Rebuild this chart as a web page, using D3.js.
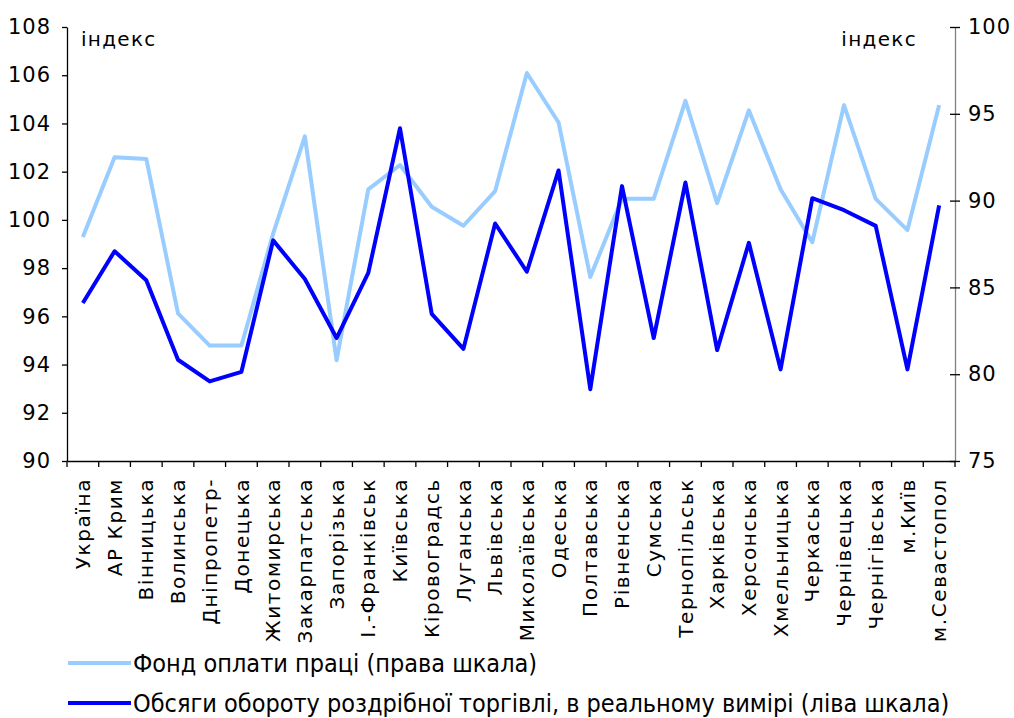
<!DOCTYPE html>
<html>
<head>
<meta charset="utf-8">
<script src="https://cdn.jsdelivr.net/npm/d3@7"></script>
<style>
  body { margin: 0; background: #fff; }
  svg { display: block; font-family: "DejaVu Sans", Verdana, sans-serif; }
</style>
</head>
<body>
<div id="chart"></div>
<script>
// Regions along the x axis
const regions = ['Україна', 'АР Крим', 'Вінницька', 'Волинська', 'Дніпропетр-', 'Донецька',
    'Житомирська', 'Закарпатська', 'Запорізька', 'І.-Франківськ', 'Київська', 'Кіровоградсь',
    'Луганська', 'Львівська', 'Миколаївська', 'Одеська', 'Полтавська', 'Рівненська', 'Сумська',
    'Тернопільськ', 'Харківська', 'Херсонська', 'Хмельницька', 'Черкаська', 'Чернівецька',
    'Чернігівська', 'м.Київ', 'м.Севастопол'];

// Wage fund, right scale
const wageFund = [87.9, 92.5, 92.4, 83.5, 81.65, 81.65, 88.1, 93.7, 80.8, 90.65, 92.05, 89.65,
    88.55, 90.55, 97.35, 94.5, 85.6, 90.1, 90.1, 95.75, 89.85, 95.2, 90.65, 87.6, 95.5, 90.1,
    88.3, 95.5];

// Retail trade turnover, real terms, left scale
const retailTurnover = [96.55, 98.7, 97.5, 94.2, 93.3, 93.7, 99.15, 97.55, 95.1, 97.8, 103.8,
    96.1, 94.65, 99.85, 97.85, 102.05, 92.98, 101.4, 95.1, 101.55, 94.6, 99.05, 93.8, 100.9,
    100.4, 99.75, 93.8, 100.6];

const leftTicks = [90, 92, 94, 96, 98, 100, 102, 104, 106, 108];
const rightTicks = [75, 80, 85, 90, 95, 100];

const legendItems = [
    { label: 'Фонд оплати праці (права шкала)', color: '#99ccff' },
    { label: 'Обсяги обороту роздрібної торгівлі, в реальному вимірі (ліва шкала)', color: '#0000ff' }
];

const width = 1014, height = 718;
const margin = { top: 27, right: 59, bottom: 257, left: 67 };
const innerW = width - margin.left - margin.right;
const innerH = height - margin.top - margin.bottom;

const svg = d3.select('#chart').append('svg')
    .attr('width', width)
    .attr('height', height);

const g = svg.append('g')
    .attr('transform', `translate(${margin.left},${margin.top})`);

const x = d3.scaleBand().domain(regions).range([0, innerW]).padding(0);
const yLeft = d3.scaleLinear().domain([90, 108]).range([innerH, 0]);
const yRight = d3.scaleLinear().domain([75, 100]).range([innerH, 0]);
const cx = d => x(d) + x.bandwidth() / 2;

// left axis
const leftAxis = g.append('g')
    .call(d3.axisLeft(yLeft).tickValues(leftTicks).tickSize(5).tickSizeOuter(0));
leftAxis.select('.domain').attr('stroke', '#000').attr('stroke-width', 1.3);
leftAxis.selectAll('.tick line').attr('stroke', '#000').attr('stroke-width', 1.3);
leftAxis.selectAll('.tick text')
    .attr('x', -16)
    .attr('font-size', 21)
    .attr('letter-spacing', 1)
    .attr('fill', '#000')
    .attr('font-family', '"DejaVu Sans", Verdana, sans-serif');

// right axis
const rightAxis = g.append('g')
    .attr('transform', `translate(${innerW},0)`)
    .call(d3.axisRight(yRight).tickValues(rightTicks).tickSize(5).tickSizeOuter(0));
rightAxis.select('.domain').attr('stroke', '#808080').attr('stroke-width', 1.3);
rightAxis.selectAll('.tick line').attr('x1', -5).attr('stroke', '#000').attr('stroke-width', 1.3);
rightAxis.selectAll('.tick text')
    .attr('x', 13)
    .attr('font-size', 21)
    .attr('letter-spacing', 1)
    .attr('fill', '#000')
    .attr('font-family', '"DejaVu Sans", Verdana, sans-serif');

// bottom axis: labels at band centres, ticks at band edges
const bottomAxis = g.append('g')
    .attr('transform', `translate(0,${innerH})`)
    .call(d3.axisBottom(x).tickSize(0).tickSizeOuter(0));
bottomAxis.select('.domain').attr('stroke', '#000').attr('stroke-width', 1.3);
bottomAxis.selectAll('.tick text')
    .attr('transform', 'rotate(-90)')
    .attr('text-anchor', 'end')
    .attr('x', -17)
    .attr('y', 0)
    .attr('dy', '0.36em')
    .attr('font-size', 20)
    .attr('letter-spacing', 1.6)
    .attr('fill', '#000')
    .attr('font-family', '"DejaVu Sans", Verdana, sans-serif');

bottomAxis.selectAll('.edge-tick')
    .data(regions.concat(['__end']))
    .enter()
    .append('line')
    .attr('class', 'edge-tick')
    .attr('x1', (d, i) => i < regions.length ? x(d) : innerW)
    .attr('x2', (d, i) => i < regions.length ? x(d) : innerW)
    .attr('y1', 0)
    .attr('y2', 6)
    .attr('stroke', '#000')
    .attr('stroke-width', 1.3);

// lines
const wageLine = d3.line()
    .x((d, i) => cx(regions[i]))
    .y(d => yRight(d));
const retailLine = d3.line()
    .x((d, i) => cx(regions[i]))
    .y(d => yLeft(d));

g.append('path')
    .datum(wageFund)
    .attr('d', wageLine)
    .attr('fill', 'none')
    .attr('stroke', legendItems[0].color)
    .attr('stroke-width', 4)
    .attr('stroke-linejoin', 'round');

g.append('path')
    .datum(retailTurnover)
    .attr('d', retailLine)
    .attr('fill', 'none')
    .attr('stroke', legendItems[1].color)
    .attr('stroke-width', 4)
    .attr('stroke-linejoin', 'round');

// unit labels
g.append('text')
    .attr('x', 14)
    .attr('y', 19)
    .attr('font-size', 20)
    .attr('letter-spacing', 1.3)
    .text('індекс');
g.append('text')
    .attr('x', innerW - 38)
    .attr('y', 19)
    .attr('text-anchor', 'end')
    .attr('font-size', 20)
    .attr('letter-spacing', 1.3)
    .text('індекс');

// legend
const legend = svg.append('g')
    .attr('transform', 'translate(68,663)');
const items = legend.selectAll('.legend-item')
    .data(legendItems)
    .enter()
    .append('g')
    .attr('class', 'legend-item')
    .attr('transform', (d, i) => `translate(0,${i * 40})`);
items.append('line')
    .attr('x1', 0)
    .attr('x2', 63)
    .attr('stroke', d => d.color)
    .attr('stroke-width', 4);
items.append('text')
    .attr('x', 65)
    .attr('dy', '0.35em')
    .attr('font-size', 25)
    .attr('font-family', '"DejaVu Sans Condensed", "DejaVu Sans", sans-serif')
    .attr('font-stretch', 'condensed')
    .text(d => d.label);
</script>
</body>
</html>
